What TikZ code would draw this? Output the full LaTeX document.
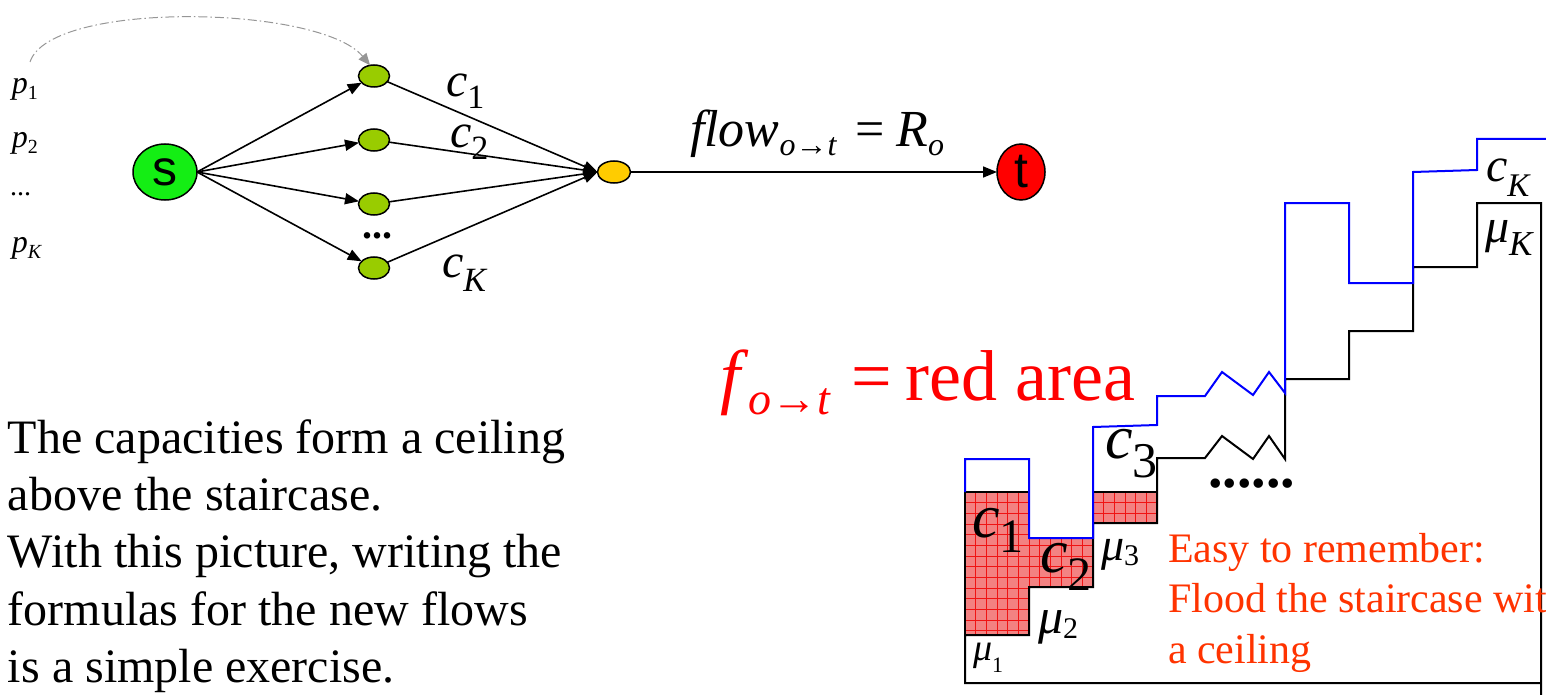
\documentclass[tikz,border=0pt]{standalone}
\usepackage{fontspec}
\setmainfont{Liberation Serif}
\newfontfamily\sansf{Liberation Sans}
\usetikzlibrary{arrows.meta,shapes.geometric}
\definecolor{sgreen}{RGB}{20,238,20}
\definecolor{ogreen}{RGB}{153,204,0}
\definecolor{yel}{RGB}{255,204,0}
\definecolor{tred}{RGB}{255,0,0}
\definecolor{areafill}{RGB}{243,130,130}
\definecolor{gridred}{RGB}{240,20,20}
\definecolor{note}{RGB}{255,51,0}
\definecolor{ceil}{RGB}{0,0,255}
\definecolor{arcgray}{RGB}{150,150,150}
\newcommand\fs[1]{\fontsize{#1}{#1}\selectfont}
\newcommand\lowsub[3]{\raisebox{-#1pt}{\fs{#2}#3}}
\begin{document}
\begin{tikzpicture}[x=1pt,y=-1pt,
  every node/.style={inner sep=0pt, outer sep=0pt},
  bignode/.style={ellipse, draw=black, line width=1.5pt, inner sep=0pt, font=\sansf\fs{50}},
  smallnode/.style={ellipse, draw=black, line width=1.5pt, minimum width=31pt, minimum height=22pt},
  flowarrow/.style={line width=1.6pt, -{Triangle[length=14pt,width=11pt]}},
  arcline/.style={arcgray, line width=1pt, dash pattern=on 9pt off 3pt on 1.5pt off 3pt, -{Triangle[length=12pt,width=10pt]}},
  lab/.style={anchor=base west},
  stair/.style={line width=2pt, black, line join=miter},
  ceiling/.style={line width=2pt, ceil},
  gridline/.style={gridred, line width=0.6pt},
  notetext/.style={anchor=base west, text=note, font=\fs{42}},
  bodytext/.style={anchor=base west, font=\fs{48}},
 ]
\useasboundingbox (0,0) rectangle (1546,695);

% ---------------- graph ----------------
\node[bignode, fill=sgreen, minimum width=64pt, minimum height=56pt] (s) at (165,172) {s};
\node[smallnode, fill=ogreen] (g1) at (374,76) {};
\node[smallnode, fill=ogreen] (g2) at (374,140) {};
\node[smallnode, fill=ogreen] (g3) at (374,204) {};
\node[smallnode, fill=ogreen] (g4) at (374,268) {};
\node[smallnode, fill=yel, minimum width=33pt] (y) at (614,172) {};
\node[bignode, fill=tred, minimum width=48pt, minimum height=56pt] (t) at (1021,172) {t};

\foreach \g in {g1,g2,g3,g4} {
  \draw[flowarrow] (s.east) -- (\g);
  \draw[flowarrow] (\g) -- (y.west);
}
\draw[flowarrow] (y) -- (t);

\coordinate (arcstart) at (30,62);
\draw[arcline] (arcstart) .. controls (50,0) and (320,5) .. (g1.110);

\node[lab, font=\fs{48}] (lc1) at (446,97) {\textit{c}\lowsub{12}{34}{1}};
\node[lab, font=\fs{48}] (lc2) at (450,148) {\textit{c}\lowsub{12}{34}{2}};
\node[lab, font=\fs{48}] (lcK) at (442,277) {\textit{c}\lowsub{14}{34}{\textit{K}}};
\node[lab, font=\fs{40}\bfseries] (gdots) at (362,238) {...};

\node[lab, font=\fs{32}] (p1) at (12,94) {\textit{p}\lowsub{6}{20}{1}};
\node[lab, font=\fs{32}] (p2) at (12,148) {\textit{p}\lowsub{6}{20}{2}};
\node[lab, font=\fs{28}] (pd) at (10,196) {...};
\node[lab, font=\fs{32}] (pK) at (12,252) {\textit{p}\lowsub{6}{20}{\textit{K}}};

\node[lab, font=\fs{52}] (flowlab) at (690,147)
  {\textit{flow}\lowsub{9}{32}{\textit{o}→\textit{t}}\hspace{18pt}=\hspace{12pt}\textit{R}\lowsub{9}{32}{\textit{o}}};

% ---------------- texts ----------------
\node[lab, font=\fs{72}, text=red] (redarea) at (720,400)
  {\textit{f}\lowsub{14}{46}{\textit{o}→\textit{t}}\hspace{20pt}=\hspace{14pt}red area};

\node[bodytext] (b1) at (8,453) {The capacities form a ceiling};
\node[bodytext] (b2) at (8,510) {above the staircase.};
\node[bodytext] (b3) at (8,567) {With this picture, writing the};
\node[bodytext] (b4) at (8,625) {formulas for the new flows};
\node[bodytext] (b5) at (8,682) {is a simple exercise.};

% ---------------- staircase ----------------
\begin{scope}
  \clip (965,492) -- (1029,492) -- (1029,538) -- (1093,538) -- (1093,587) -- (1029,587) -- (1029,635) -- (965,635) -- cycle
        (1093,492) -- (1157,492) -- (1157,523) -- (1093,523) -- cycle;
  \fill[areafill] (960,480) rectangle (1170,640);
  \foreach \i in {0,...,18} { \draw[gridline] (965+\i*10.67,480) -- ++(0,170); }
  \foreach \j in {0,...,14} { \draw[gridline] (955,492+\j*10.67) -- ++(215,0); }
\end{scope}

\draw[stair] (1541,695) -- (1541,203) -- (1477,203) -- (1477,267) -- (1413,267) -- (1413,331)
  -- (1349,331) -- (1349,379) -- (1285,379) -- (1285,459) -- (1269,436) -- (1253,459)
  -- (1222,436) -- (1205,458) -- (1157,458) -- (1157,523) -- (1093,523) -- (1093,587)
  -- (1029,587) -- (1029,635) -- (965,635) -- (965,683) -- (1541,683);
\draw[stair] (965,635) -- (965,492) -- (1029,492) -- (1029,538);
\draw[stair] (1093,523) -- (1093,492) -- (1157,492) -- (1157,523);

\draw[ceiling] (965,492) -- (965,459) -- (1029,459) -- (1029,538) -- (1093,538) -- (1093,427)
  -- (1157,425) -- (1157,396) -- (1205,396) -- (1222,372) -- (1253,395) -- (1269,372)
  -- (1285,393) -- (1285,203) -- (1349,203) -- (1349,283) -- (1413,283) -- (1413,172)
  -- (1477,170) -- (1477,139) -- (1546,139);

\node[lab, font=\fs{58}\bfseries] (sdots) at (1208,487) {......};

\node[lab, font=\fs{62}] (sc1) at (972,537) {\textit{c}\lowsub{15}{48}{1}};
\node[lab, font=\fs{62}] (sc2) at (1040,572) {\textit{c}\lowsub{18}{48}{2}};
\node[lab, font=\fs{62}] (sc3) at (1105,458) {\textit{c}\lowsub{19}{50}{3}};
\node[lab, font=\fs{48}] (scK) at (1486,182) {\textit{c}\lowsub{15}{33}{\textit{K}}};
\node[lab, font=\fs{38}] (m1) at (973,660) {\textit{μ}\lowsub{12}{22}{1}};
\node[lab, font=\fs{50}] (m2) at (1038,633) {\textit{μ}\lowsub{5}{30}{2}};
\node[lab, font=\fs{46}] (m3) at (1101,560) {\textit{μ}\lowsub{5}{30}{3}};
\node[lab, font=\fs{48}] (mK) at (1485,242) {\textit{μ}\lowsub{13}{35}{\textit{K}}};

\begin{scope}
  \clip (0,0) rectangle (1546,695);
  \node[notetext] (n1) at (1168,562) {Easy to remember:};
  \node[notetext] (n2) at (1168,612) {Flood the staircase with};
  \node[notetext] (n3) at (1168,663) {a ceiling};
\end{scope}
\end{tikzpicture}
\end{document}
